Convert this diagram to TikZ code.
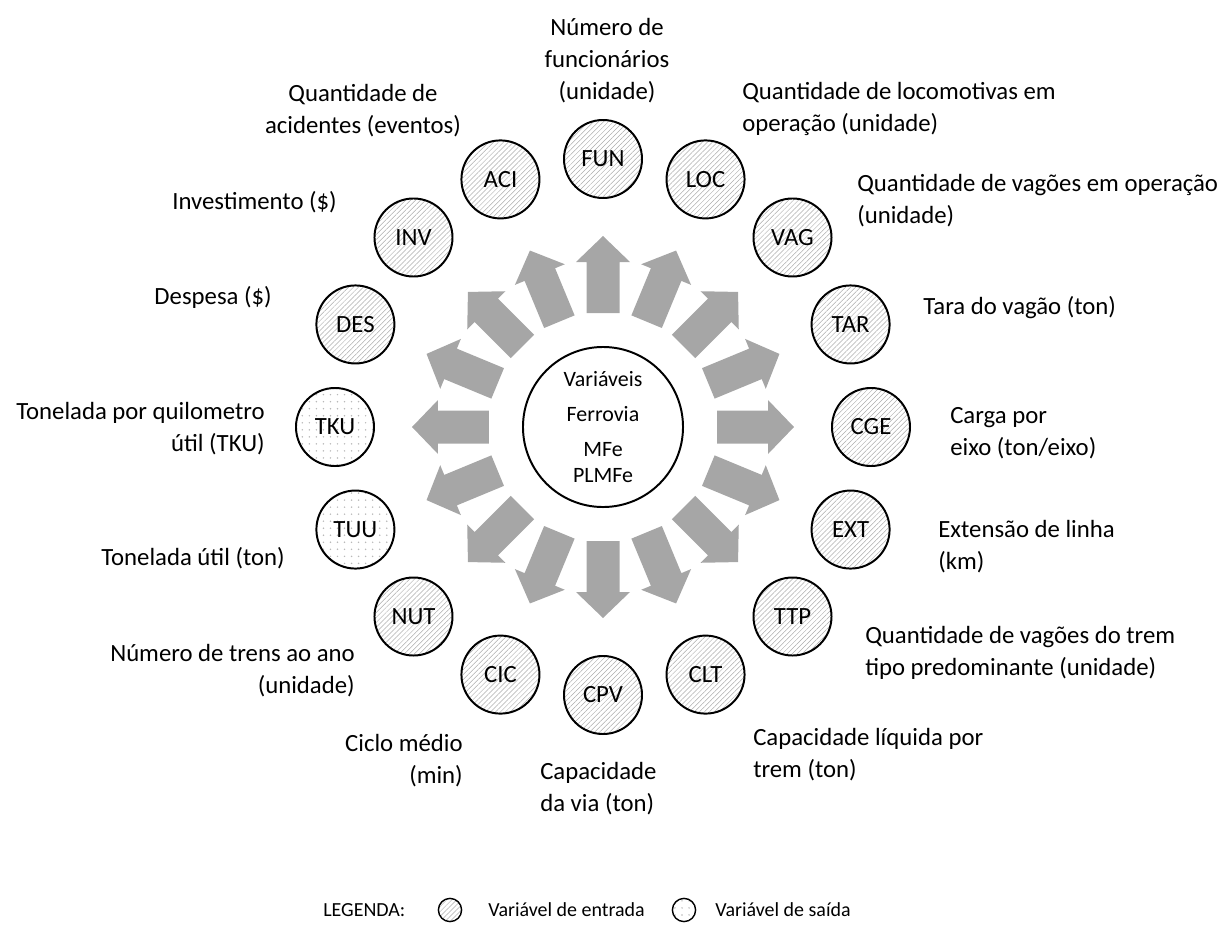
\documentclass[tikz,border=0pt]{standalone}
\usepackage{fontspec}
\setmainfont{Carlito}
\usetikzlibrary{patterns.meta}
\definecolor{arrowgray}{HTML}{A6A6A6}
\tikzset{
      entrada/.style={
        circle,
        draw=black,
        line width=1.4pt,
        minimum size=1.95cm,
        inner sep=0pt,
        pattern={Lines[angle=45,distance=2.5pt,line width=0.35pt]},
        pattern color=gray!65,
        font=\fontsize{17.6pt}{22.8pt}\selectfont
      },
      saida/.style={
        entrada,
        pattern={Dots[distance=5pt,radius=0.6pt]},
        pattern color=gray!55
      },
      rotulo/.style={
        inner sep=0pt,
        font=\fontsize{17.6pt}{22.8pt}\selectfont
      },
      legenda/.style={
        inner sep=0pt,
        font=\fontsize{14.2pt}{18pt}\selectfont
      },
      blockarrow/.pic={
        \fill[arrowgray] (114,-16.5) -- (165,-16.5) -- (165,-27) -- (191,0)
          -- (165,27) -- (165,16.5) -- (114,16.5) -- cycle;
      }
    }

\begin{document}
\begin{tikzpicture}[x=0.025cm,y=0.025cm]
    \useasboundingbox (-603,-502) rectangle (625,427);
    \node[circle, draw=black, line width=1.4pt, minimum size=4cm, align=center,
      font=\fontsize{15.6pt}{18.5pt}\selectfont] (ferrovia) at (0,0)
      {Variáveis\\[6.4pt]Ferrovia\\[6.4pt]MFe\\PLMFe};
    \pic[rotate=0] {blockarrow};
    \pic[rotate=22.5] {blockarrow};
    \pic[rotate=45] {blockarrow};
    \pic[rotate=67.5] {blockarrow};
    \pic[rotate=90] {blockarrow};
    \pic[rotate=112.5] {blockarrow};
    \pic[rotate=135] {blockarrow};
    \pic[rotate=157.5] {blockarrow};
    \pic[rotate=180] {blockarrow};
    \pic[rotate=202.5] {blockarrow};
    \pic[rotate=225] {blockarrow};
    \pic[rotate=247.5] {blockarrow};
    \pic[rotate=270] {blockarrow};
    \pic[rotate=292.5] {blockarrow};
    \pic[rotate=315] {blockarrow};
    \pic[rotate=337.5] {blockarrow};
    \node[entrada] (fun) at (90:268) {FUN};
    \node[entrada] (loc) at (67.5:268) {LOC};
    \node[entrada] (vag) at (45:268) {VAG};
    \node[entrada] (tar) at (22.5:268) {TAR};
    \node[entrada] (cge) at (0:268) {CGE};
    \node[entrada] (ext) at (-22.5:268) {EXT};
    \node[entrada] (ttp) at (-45:268) {TTP};
    \node[entrada] (clt) at (-67.5:268) {CLT};
    \node[entrada] (cpv) at (-90:268) {CPV};
    \node[entrada] (cic) at (-112.5:268) {CIC};
    \node[entrada] (nut) at (-135:268) {NUT};
    \node[saida] (tuu) at (-157.5:268) {TUU};
    \node[saida] (tku) at (180:268) {TKU};
    \node[entrada] (des) at (157.5:268) {DES};
    \node[entrada] (inv) at (135:268) {INV};
    \node[entrada] (aci) at (112.5:268) {ACI};
    \node[rotulo, align=center] (funtxt) at (4,366) {Número de\\funcionários\\(unidade)};
    \node[rotulo, align=center] (acitxt) at (-240,316) {Quantidade de\\acidentes (eventos)};
    \node[rotulo, align=left, anchor=west] (loctxt) at (139,318) {Quantidade de locomotivas em\\operação (unidade)};
    \node[rotulo, anchor=east] (invtxt) at (-266,225) {Investimento (\$)};
    \node[rotulo, align=left, anchor=west] (vagtxt) at (254,226) {Quantidade de vagões em operação\\(unidade)};
    \node[rotulo, anchor=east] (destxt) at (-331,130) {Despesa (\$)};
    \node[rotulo, anchor=west] (tartxt) at (320,119) {Tara do vagão (ton)};
    \node[rotulo, align=right, anchor=east] (tkutxt) at (-338,-2) {Tonelada por quilometro\\útil (TKU)};
    \node[rotulo, align=left, anchor=west] (cgetxt) at (347,-6) {Carga por\\eixo (ton/eixo)};
    \node[rotulo, anchor=east] (tuutxt) at (-318,-131) {Tonelada útil (ton)};
    \node[rotulo, align=left, anchor=west] (exttxt) at (335,-120) {Extensão de linha\\(km)};
    \node[rotulo, align=right, anchor=east] (nuttxt) at (-248,-244) {Número de trens ao ano\\(unidade)};
    \node[rotulo, align=left, anchor=west] (ttptxt) at (262,-226) {Quantidade de vagões do trem\\tipo predominante (unidade)};
    \node[rotulo, align=right, anchor=east] (cictxt) at (-140,-334) {Ciclo médio\\(min)};
    \node[rotulo, align=left, anchor=west] (clttxt) at (150,-328) {Capacidade líquida por\\trem (ton)};
    \node[rotulo, align=left, anchor=west] (cpvtxt) at (-63,-362) {Capacidade\\da via (ton)};
    \node[legenda, anchor=west] (legtxt) at (-280,-483) {LEGENDA:};
    \node[entrada, line width=1pt, minimum size=0.58cm] (legent) at (-153,-483) {};
    \node[legenda, anchor=west] (enttxt) at (-115,-483) {Variável de entrada};
    \node[saida, line width=1pt, minimum size=0.58cm] (legsai) at (81,-483) {};
    \node[legenda, anchor=west] (saitxt) at (112,-483) {Variável de saída};
    \end{tikzpicture}
\end{document}
